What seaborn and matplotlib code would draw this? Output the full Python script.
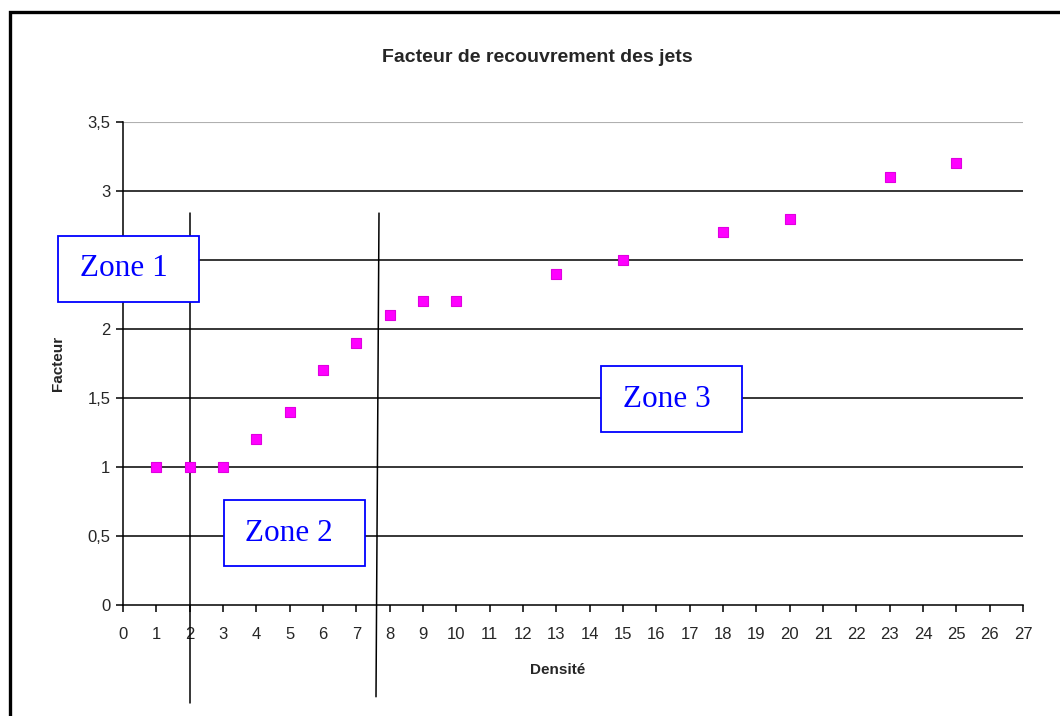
import matplotlib
matplotlib.use("Agg")
import matplotlib.pyplot as plt
from matplotlib.patches import Rectangle
import seaborn as sns
import pandas as pd

# Measurements: density vs. overlap factor
densite = [1, 2, 3, 4, 5, 6, 7, 8, 9, 10, 13, 15, 18, 20, 23, 25]
facteur = [1.0, 1.0, 1.0, 1.2, 1.4, 1.7, 1.9, 2.1, 2.2, 2.2, 2.4, 2.5, 2.7, 2.8, 3.1, 3.2]

x_ticks = list(range(0, 28))
y_ticks = [0, 0.5, 1, 1.5, 2, 2.5, 3, 3.5]
y_tick_labels = ["0", "0,5", "1", "1,5", "2", "2,5", "3", "3,5"]

# Zone boundaries (x at top, x at bottom, y top, y bottom)
boundary_1 = ([2.0, 2.0], [2.84, -0.71])
boundary_2 = ([7.68, 7.59], [2.84, -0.665])

# Zone labels: text, centre x, centre y
zones = [("Zone 1", 0.165, 2.435), ("Zone 2", 5.13, 0.52), ("Zone 3", 16.46, 1.49)]

df = pd.DataFrame({"Densité": densite, "Facteur": facteur})

sns.set_style("white")
plt.rcParams["font.family"] = ["Liberation Sans", "DejaVu Sans"]

fig = plt.figure(figsize=(10.6, 7.16), dpi=100)
ax = fig.add_axes([123 / 1060, 1 - 605 / 716, 900 / 1060, 483 / 716])

# Horizontal gridlines
for yv in y_ticks[1:]:
    ax.axhline(yv, color="#b0b0b0" if yv == 3.5 else "black",
               lw=0.8 if yv == 3.5 else 1.1, zorder=1)

sns.scatterplot(data=df, x="Densité", y="Facteur", ax=ax, marker="s", s=55,
                color="#FF00FF", edgecolor="#E000E0", linewidth=0.8, zorder=5,
                legend=False)

ax.set_xlim(0, 27)
ax.set_ylim(0, 3.5)
ax.set_xticks(x_ticks)
ax.set_xticklabels([str(v) for v in x_ticks], fontsize=12)
ax.set_yticks(y_ticks)
ax.set_yticklabels(y_tick_labels, fontsize=12)
ax.tick_params(axis="both", which="major", direction="out", length=5, width=1.1,
               color="black", bottom=True, left=True)
ax.tick_params(axis="x", pad=11)
ax.tick_params(axis="y", pad=4)

for side in ["top", "right"]:
    ax.spines[side].set_visible(False)
for side in ["left", "bottom"]:
    ax.spines[side].set_color("black")
    ax.spines[side].set_linewidth(1.1)

ax.set_xlabel("Densité", fontsize=11, fontweight="bold")
ax.xaxis.set_label_coords((558 - 123) / 900, -58 / 483)
ax.set_ylabel("Facteur", fontsize=11, fontweight="bold", labelpad=16)
fig.text(537 / 1060, 1 - 57 / 716, "Facteur de recouvrement des jets",
         ha="center", va="center", fontsize=14, fontweight="bold")

# Zone boundaries
for xs, ys in (boundary_1, boundary_2):
    ax.plot(xs, ys, color="black", lw=1.1, clip_on=False, zorder=3)

# Zone boxes
box_w = 141 / (900 / 27)
box_h = 66 / (483 / 3.5)
for label, cx, cy in zones:
    ax.add_patch(Rectangle((cx - box_w / 2, cy - box_h / 2), box_w, box_h,
                           facecolor="white", edgecolor="#0000FF", lw=1.3,
                           clip_on=False, zorder=6))
    ax.text(cx - 0.14, cy, label, ha="center", va="center", color="#0000FF",
            fontsize=22.5, family=["Liberation Serif", "DejaVu Serif"], zorder=7)

# Outer chart frame
fig.patches.append(Rectangle((9.5 / 1060, -0.05), 1.2, 1.05 - 12 / 716,
                             transform=fig.transFigure, fill=False,
                             edgecolor="black", lw=2.4))

fig.savefig("out.png", dpi=100)
